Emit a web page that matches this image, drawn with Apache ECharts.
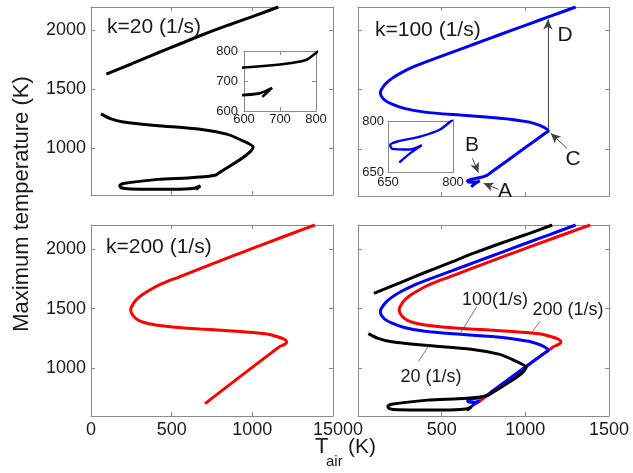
<!DOCTYPE html>
<html>
<head>
<meta charset="utf-8">
<script src="https://cdn.jsdelivr.net/npm/echarts@6/dist/echarts.min.js"></script>
<style>
  html, body { margin: 0; padding: 0; background: #fff; }
  #chart { width: 633px; height: 473px; }
</style>
</head>
<body>
<div id="chart"></div>
<script>
// [T_air (K), max temperature (K)]
const k20Upper = [[95,1628],[250,1715],[400,1802],[550,1885],[700,1968],[850,2045],[1000,2118],[1161,2200]];
const k20Lower = [[62,1290],[120,1250],[200,1222],[400,1192],[676,1160],[841,1118],[930,1068],[1005,1008],
  [780,775],[760,766],[700,755],[600,745],[415,733],[200,698],[178,680],[186,662],[242,652],[510,650],
  [640,658],[678,677],[651,647]];
const k100 = [[1301,2200],[1150,2122],[1000,2045],[850,1967],[700,1889],[560,1816],[430,1748],[330,1693],
  [260,1645],[205,1598],[165,1550],[140,1502],[134,1475],[140,1445],[160,1412],[200,1380],[276,1342],
  [400,1310],[611,1285],[800,1265],[909,1250],[1020,1226],[1069,1206],[1110,1182],[1138,1150],[1122,1135],
  [1000,1010],[800,805],[770,775],[724,754],[670,739],[655,729],[660,718],[700,716],[728,729],[703,707],[676,678]];
const k200 = [[1388,2200],[1250,2131],[1100,2055],[950,1977],[800,1900],[665,1829],[540,1762],[440,1708],
  [370,1660],[315,1613],[275,1565],[252,1517],[246,1490],[258,1445],[295,1402],[386,1366],[520,1343],
  [676,1328],[850,1315],[1006,1300],[1100,1285],[1151,1266],[1195,1245],[1213,1220],[1200,1200],
  [1171,1183],[707,704]];

const xTicks = [0, 500, 1000, 1500];
const yTicks = [1000, 1500, 2000];
const inset20Ticks = [600, 700, 800];
const inset100Ticks = [650, 800];

const FONT = '"Liberation Sans", Arial, sans-serif';
const gray = '#8a8a8a';
const ink = '#1a1a1a';
const plain = v => String(v);

// one grid = bottom/top x axes + left/right y axes (matlab style box)
function xAxes(g, min, max, ticks, showLabel, fs, margin) {
  return [
    {
      type: 'value', gridIndex: g, position: 'bottom', min: min, max: max,
      axisLine: { show: true, onZero: false, lineStyle: { color: gray } },
      axisTick: { show: true, inside: true, length: 4, customValues: ticks, lineStyle: { color: gray } },
      axisLabel: { show: showLabel, customValues: ticks, formatter: plain, color: ink, fontSize: fs, fontFamily: FONT, margin: margin },
      splitLine: { show: false }
    },
    {
      type: 'value', gridIndex: g, position: 'top', min: min, max: max,
      axisLine: { show: true, onZero: false, lineStyle: { color: gray } },
      axisTick: { show: true, inside: true, length: 4, customValues: ticks, lineStyle: { color: gray } },
      axisLabel: { show: false },
      splitLine: { show: false }
    }
  ];
}
function yAxes(g, min, max, ticks, showLabel, fs, margin) {
  return [
    {
      type: 'value', gridIndex: g, position: 'left', min: min, max: max,
      axisLine: { show: true, onZero: false, lineStyle: { color: gray } },
      axisTick: { show: true, inside: true, length: 4, customValues: ticks, lineStyle: { color: gray } },
      axisLabel: { show: showLabel, customValues: ticks, formatter: plain, color: ink, fontSize: fs, fontFamily: FONT, margin: margin },
      splitLine: { show: false }
    },
    {
      type: 'value', gridIndex: g, position: 'right', min: min, max: max,
      axisLine: { show: true, onZero: false, lineStyle: { color: gray } },
      axisTick: { show: true, inside: true, length: 4, customValues: ticks, lineStyle: { color: gray } },
      axisLabel: { show: false },
      splitLine: { show: false }
    }
  ];
}

function line(data, color, ax, width) {
  return {
    type: 'line', data: data, xAxisIndex: ax, yAxisIndex: ax,
    symbol: 'none', smooth: 0.25, clip: true,
    lineStyle: { color: color, width: width || 3 },
    z: 3
  };
}

function txt(text, x, y, fs, align) {
  return {
    type: 'text', x: x, y: y, z: 10,
    style: { text: text, fill: ink, font: fs + 'px ' + FONT, align: align || 'center', verticalAlign: 'middle' }
  };
}

const k100Main = line(k100, '#0000ff', 2);
k100Main.markLine = {
  silent: true, symbol: ['none', 'arrow'], symbolSize: [7, 10],
  label: { show: false }, lineStyle: { color: '#444', width: 1, type: 'solid' }, animation: false,
  data: [
    [{ coord: [1135, 1160] }, { coord: [1135, 2095] }],
    [{ coord: [1248, 1004] }, { coord: [1152, 1131] }],
    [{ coord: [684, 919] }, { coord: [720, 797] }],
    [{ coord: [839, 657] }, { coord: [750, 708] }]
  ]
};

const k20Combined = line(k20Lower, '#000', 6);
k20Combined.markLine = {
  silent: true, symbol: ['none', 'none'],
  label: { show: false }, lineStyle: { color: '#555', width: 0.8, type: 'solid' }, animation: false,
  data: [
    [{ coord: [611, 1290] }, { coord: [710, 1518] }],
    [{ coord: [1039, 1300] }, { coord: [1088, 1393] }],
    [{ coord: [421, 1185] }, { coord: [362, 1058] }]
  ]
};

const chart = echarts.init(document.getElementById('chart'));
chart.setOption({
  animation: false,
  backgroundColor: '#fff',
  grid: [
    { left: 91, top: 7, width: 242, height: 188 },
    { left: 358, top: 7, width: 251, height: 189 },
    { left: 91, top: 225, width: 242, height: 191 },
    { left: 358, top: 225, width: 251, height: 191 },
    { left: 244, top: 51, width: 72, height: 60, show: true, backgroundColor: '#fff', borderWidth: 0 },
    { left: 388, top: 121, width: 65, height: 51, show: true, backgroundColor: '#fff', borderWidth: 0 }
  ],
  xAxis: [].concat(
    xAxes(0, 0, 1500, xTicks, false, 18, 5),
    xAxes(1, 0, 1500, xTicks, false, 18, 5),
    xAxes(2, 0, 1500, xTicks, true, 18, 5),
    xAxes(3, 0, 1500, xTicks, true, 18, 5),
    xAxes(4, 600, 800, inset20Ticks, true, 13, 2),
    xAxes(5, 650, 800, inset100Ticks, true, 13, 4)
  ),
  yAxis: [].concat(
    yAxes(0, 600, 2200, yTicks, true, 18, 5),
    yAxes(1, 600, 2200, yTicks, false, 18, 5),
    yAxes(2, 600, 2200, yTicks, true, 18, 5),
    yAxes(3, 600, 2200, yTicks, false, 18, 5),
    yAxes(4, 600, 800, inset20Ticks, true, 13, 6),
    yAxes(5, 650, 800, inset100Ticks, true, 13, 4)
  ),
  series: [
    line(k20Upper, '#000', 0),
    line(k20Lower, '#000', 0),
    k100Main,
    line(k200, '#ff0000', 4),
    line(k200, '#ff0000', 6),
    line(k100, '#0000ff', 6),
    line(k20Upper, '#000', 6),
    k20Combined,
    line(k20Lower, '#000', 8, 2.6),
    line(k100, '#0000ff', 10, 2.4)
  ],
  graphic: [
    txt('k=20 (1/s)', 107, 27, 21, 'left'),
    txt('k=100 (1/s)', 375, 30, 21, 'left'),
    txt('k=200 (1/s)', 106, 247, 21, 'left'),
    txt('D', 565, 35, 21),
    txt('C', 573, 159, 21),
    txt('B', 472, 145, 21),
    txt('A', 505, 191, 21),
    txt('100(1/s)', 495, 300, 18),
    txt('200 (1/s)', 568, 310, 18),
    txt('20 (1/s)', 431, 377, 18),
    {
      type: 'text', x: 22, y: 204, rotation: Math.PI / 2, z: 10,
      style: { text: 'Maximum temperature (K)', fill: ink, font: '22px ' + FONT, align: 'center', verticalAlign: 'middle' }
    },
    txt('T', 315, 447, 22, 'left'),
    txt('air', 326, 462, 15, 'left'),
    txt('(K)', 348, 447, 21, 'left')
  ]
});
</script>
</body>
</html>
